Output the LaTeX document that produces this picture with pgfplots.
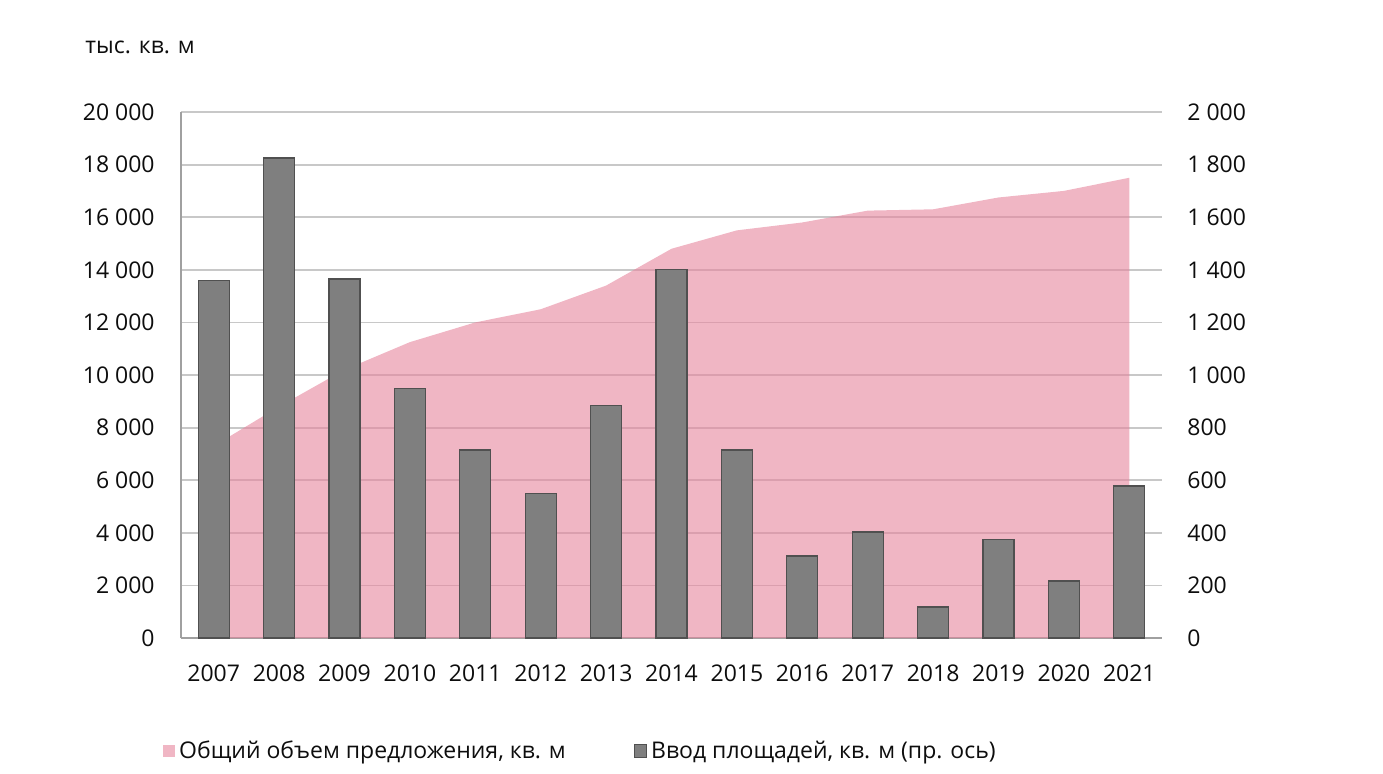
\documentclass[border=0pt]{standalone}
\usepackage{fontspec}
\setmainfont{Open Sans}
\usepackage{pgfplots}
\pgfplotsset{compat=1.18}
\definecolor{pinkA}{HTML}{E6859D}
\definecolor{pinkL}{HTML}{F0B6C4}
\definecolor{barG}{HTML}{7F7F7F}
\definecolor{barE}{HTML}{505050}
\definecolor{gridG}{HTML}{C8C8C8}
\definecolor{axG}{HTML}{A0A0A0}
\definecolor{txt}{HTML}{0D0D0D}
\begin{document}
\begin{tikzpicture}
\path[use as bounding box] (0,0) rectangle (691.5pt,386.5pt);
\pgfplotsset{common/.style={
  scale only axis, width=490.5pt, height=263pt,
  at={(90.5pt,67.5pt)}, anchor=south west,
  xmin=-0.5, xmax=14.5, ymin=0,
  font=\fontsize{11.5}{13}\selectfont,
  tick style={draw=none},
  scaled y ticks=false,
  /pgf/number format/1000 sep={\ },
  /pgf/number format/assume math mode=true,
  ticklabel style={text=txt},
},
sqleg/.style={legend image code/.code={\fill[##1] (-1.5pt,-3.1pt) rectangle (4.7pt,3.1pt);}}}
\begin{axis}[common,
  ymax=20000, ytick={0,2000,...,20000},
  ymajorgrids, grid style={gridG, line width=0.9pt},
  axis x line*=bottom, axis y line*=left,
  axis line style={-, axG, line width=0.9pt},
  xtick={0,...,14},
  xticklabels={2007,2008,2009,2010,2011,2012,2013,2014,2015,2016,2017,2018,2019,2020,2021},
  xticklabel style={inner sep=0pt, anchor=north, yshift=-13pt},
  yticklabel style={inner sep=0pt, anchor=east, xshift=-13pt},
]
\addplot[draw=none, fill=pinkA, fill opacity=0.6] coordinates {
(0,7300) (1,8800) (2,10200) (3,11250) (4,12000) (5,12500) (6,13400) (7,14800)
(8,15500) (9,15800) (10,16250) (11,16300) (12,16750) (13,17000) (14,17500)
} \closedcycle;
\end{axis}
\begin{axis}[common,
  ymax=2000, ytick={0,200,...,2000},
  axis x line=none, axis y line*=right,
  y axis line style={draw=none},
  yticklabel style={inner sep=0pt, anchor=west, xshift=12.5pt},
  ybar, bar width=15.5pt,
  legend columns=2,
  legend style={at={(0.408,-0.215)}, anchor=center, draw=none, fill=none,
    font=\fontsize{11.5}{13}\selectfont, text=txt,
    /tikz/every even column/.append style={column sep=32pt}},
]
\addlegendimage{draw=none, fill=pinkL, legend image code/.code={\fill[pinkL] (-1.5pt,-3.1pt) rectangle (4.7pt,3.1pt);}}
\addlegendentry{Общий объем предложения, кв. м}
\addlegendimage{draw=none, fill=barG, legend image code/.code={\filldraw[fill=barG, draw=barE, line width=0.5pt] (-1.5pt,-3.1pt) rectangle (4.7pt,3.1pt);}}
\addlegendentry{Ввод площадей, кв. м (пр. ось)}
\addplot[fill=barG, draw=barE, line width=0.6pt, bar shift=0pt, forget plot] coordinates {
(0,1360) (1,1825) (2,1365) (3,950) (4,715) (5,548) (6,885) (7,1400)
(8,715) (9,312) (10,403) (11,118) (12,376) (13,217) (14,578)
};
\end{axis}
\node[anchor=west, inner sep=0pt, text=txt, font=\fontsize{11.5}{13}\selectfont] at (42.5pt,363pt) {тыс. кв. м};
\end{tikzpicture}
\end{document}
